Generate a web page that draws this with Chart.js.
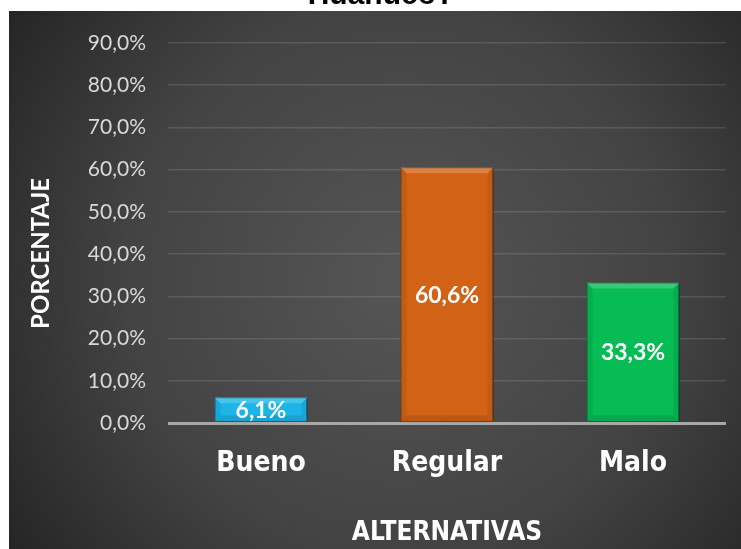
<!DOCTYPE html>
<html>
<head>
<meta charset="utf-8">
<script src="https://cdn.jsdelivr.net/npm/chart.js@4"></script>
<style>
  html, body { margin: 0; padding: 0; background: #fff; }
  #wrap { width: 741px; height: 549px; position: relative; }
</style>
</head>
<body>
<div id="wrap"><canvas id="chart"></canvas></div>
<script>
const categories = ["Bueno", "Regular", "Malo"];
const percentages = [6.1, 60.6, 33.3];
const barColors = ["#1db4e8", "#d16216", "#07bb55"];
const borderColors = ["#0f8fc0", "#a94b0d", "#05933f"];
const yTicks = [0, 10, 20, 30, 40, 50, 60, 70, 80, 90];

const fmt = v => v.toFixed(1).replace(".", ",") + "%";

// panel background, clipped title, bar bevels and value labels
const backdrop = {
  id: "backdrop",
  beforeDraw(chart) {
    const ctx = chart.ctx;
    ctx.save();
    const g = ctx.createRadialGradient(400, 280, 20, 400, 280, 480);
    g.addColorStop(0, "#545454");
    g.addColorStop(0.55, "#434343");
    g.addColorStop(1, "#242424");
    ctx.fillStyle = g;
    ctx.fillRect(9, 11, 732, 538);
    ctx.fillStyle = "#000";
    ctx.font = "bold 30px 'Liberation Sans', Arial";
    ctx.textAlign = "center";
    ctx.textBaseline = "alphabetic";
    ctx.fillText("Huánuco?", 381, 4);
    ctx.restore();
  },
  beforeDatasetsDraw(chart) {
    const ctx = chart.ctx;
    ctx.save();
    ctx.shadowColor = "rgba(0,0,0,0.55)";
    ctx.shadowBlur = 6;
    ctx.shadowOffsetX = 3;
    ctx.shadowOffsetY = 0;
  },
  afterDatasetsDraw(chart) {
    const ctx = chart.ctx;
    ctx.restore();
    const meta = chart.getDatasetMeta(0);
    ctx.save();
    meta.data.forEach(bar => {
      const l = bar.x - bar.width / 2, r = bar.x + bar.width / 2;
      const t = bar.y, b = bar.base, d = 6;
      // top bevel
      ctx.fillStyle = "rgba(255,255,255,0.2)";
      ctx.beginPath();
      ctx.moveTo(l, t); ctx.lineTo(r, t); ctx.lineTo(r - d, t + d); ctx.lineTo(l + d, t + d);
      ctx.closePath(); ctx.fill();
      // sides
      ctx.fillStyle = "rgba(0,0,0,0.07)";
      ctx.beginPath();
      ctx.moveTo(l, t); ctx.lineTo(l + d, t + d); ctx.lineTo(l + d, b - d); ctx.lineTo(l, b);
      ctx.closePath(); ctx.fill();
      ctx.beginPath();
      ctx.moveTo(r, t); ctx.lineTo(r - d, t + d); ctx.lineTo(r - d, b - d); ctx.lineTo(r, b);
      ctx.closePath(); ctx.fill();
      // bottom bevel
      ctx.fillStyle = "rgba(0,0,0,0.1)";
      ctx.beginPath();
      ctx.moveTo(l, b); ctx.lineTo(r, b); ctx.lineTo(r - d, b - d); ctx.lineTo(l + d, b - d);
      ctx.closePath(); ctx.fill();
    });
    // value labels in the middle of each bar
    ctx.fillStyle = "#fff";
    ctx.font = "bold 23px Lato";
    ctx.textAlign = "center";
    ctx.textBaseline = "middle";
    meta.data.forEach((bar, i) => {
      const mid = (bar.y + bar.base) / 2;
      ctx.fillText(fmt(percentages[i]), bar.x, mid + 1);
    });
    ctx.restore();
  }
};

new Chart(document.getElementById("chart"), {
  type: "bar",
  data: {
    labels: categories,
    datasets: [{
      data: percentages,
      backgroundColor: barColors,
      borderColor: borderColors,
      borderWidth: 1,
      barPercentage: 0.5,
      categoryPercentage: 1
    }]
  },
  options: {
    responsive: true,
    maintainAspectRatio: false,
    animation: false,
    layout: { padding: { left: 20, right: 15, top: 43, bottom: 0 } },
    plugins: {
      legend: { display: false },
      tooltip: { enabled: false }
    },
    scales: {
      x: {
        grid: { display: false, drawTicks: false },
        border: { display: false },
        ticks: {
          color: "#fff",
          padding: 24,
          font: { family: "'DejaVu Sans Condensed', 'Liberation Sans'", size: 28, weight: "bold" }
        },
        title: {
          display: true,
          text: "ALTERNATIVAS",
          color: "#fff",
          padding: 0,
          font: { family: "'DejaVu Sans Condensed', 'Liberation Sans'", size: 26, weight: "bold" }
        },
        afterFit(s) { s.height = 126; }
      },
      y: {
        min: 0,
        max: 90,
        afterBuildTicks(s) { s.ticks = yTicks.map(v => ({ value: v })); },
        grid: {
          drawTicks: false,
          color: c => c.index === 0 ? "#a8a8a8" : "rgba(255,255,255,0.12)",
          lineWidth: c => c.index === 0 ? 3 : 1.5
        },
        border: { display: false },
        ticks: {
          color: "#d9d9d9",
          padding: 22,
          font: { family: "Lato", size: 21 },
          callback: v => fmt(v)
        },
        title: {
          display: true,
          text: "PORCENTAJE       ",
          color: "#fff",
          padding: { top: 7, bottom: 0 },
          font: { family: "Lato", size: 24, weight: "bold" }
        },
        afterFit(s) { s.width = 148; }
      }
    }
  },
  plugins: [backdrop]
});
</script>
</body>
</html>
